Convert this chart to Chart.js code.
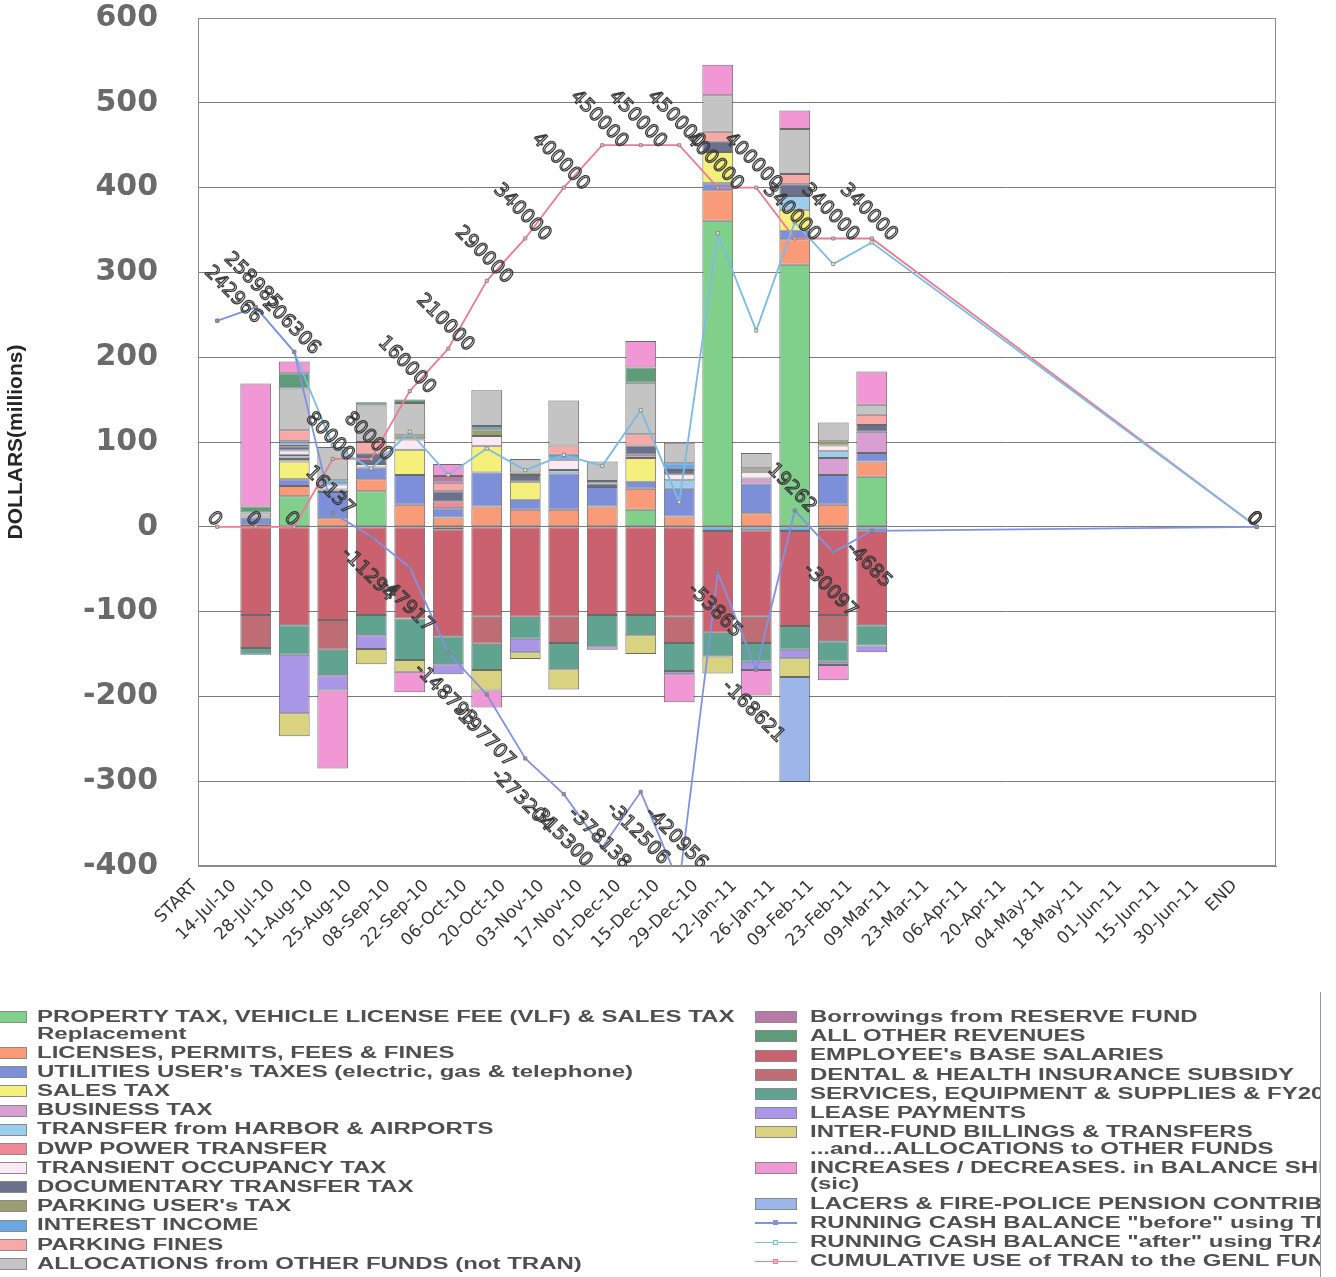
<!DOCTYPE html>
<html>
<head>
<meta charset="utf-8">
<title>General Fund cash flow and TRAN use, FY2010-11</title>
<script src="https://cdn.jsdelivr.net/npm/chart.js@4.4.1/dist/chart.umd.min.js"></script>
<style>
  html, body { margin: 0; padding: 0; background: #ffffff; }
  body { width: 1336px; height: 1277px; position: relative; overflow: hidden;
         font-family: "Liberation Sans", Arial, sans-serif; }
  #plot { position: absolute; left: 0; top: 0; width: 1336px; height: 990px; }
  #legend { position: absolute; left: 0; top: 0; width: 1320px; height: 1277px; overflow: hidden; }
  #edge { position: absolute; left: 1320px; top: 992px; width: 1px; height: 285px; background: #9a9a9a; }
  .col { position: absolute; top: 1009px; }
  .item { position: relative; margin-bottom: 2.7px; }
  .sw { position: absolute; top: 2.25px; width: 42px; height: 12px; box-sizing: border-box;
        border: 1px solid #8a8a8a; }
  .swline { position: absolute; top: 2.25px; width: 42px; height: 12px; }
  .swline i { position: absolute; left: 0; right: 0; top: 5.5px; height: 1.5px; }
  .swline b { position: absolute; left: 18px; top: 3.5px; width: 5px; height: 5px; box-sizing: border-box; }
  .txt { position: relative; font-weight: bold; font-size: 16px; line-height: 16.5px; color: #4f4f4f;
         white-space: nowrap; transform: scaleX(1.5); transform-origin: 0 0; }
</style>
</head>
<body>
<div id="plot"><canvas id="chart" width="1336" height="990"></canvas></div>
<div id="legend"></div>
<div id="edge"></div>
<script>
// Pay-period dates on the category axis
const categories = ['START', '14-Jul-10', '28-Jul-10', '11-Aug-10', '25-Aug-10', '08-Sep-10', '22-Sep-10',
  '06-Oct-10', '20-Oct-10', '03-Nov-10', '17-Nov-10', '01-Dec-10', '15-Dec-10', '29-Dec-10', '12-Jan-11',
  '26-Jan-11', '09-Feb-11', '23-Feb-11', '09-Mar-11', '23-Mar-11', '06-Apr-11', '20-Apr-11', '04-May-11',
  '18-May-11', '01-Jun-11', '15-Jun-11', '30-Jun-11', 'END'];

// Receipts and disbursements per period, $ millions (START .. 23-Feb-11)
//                       START 14Jul 28Jul 11Aug 25Aug 08Sep 22Sep 06Oct 20Oct 03Nov 17Nov 01Dec 15Dec 29Dec 12Jan 26Jan 09Feb 23Feb
const propertyTax      = [null,   0,   36,    0,   42,    0,    0,    0,    0,    0,    0,   20,    0,  361,    0,  309,    0,   59];
const licensesFees     = [null,   3,   12,   10,   14,   26,   11,   24,   20,   20,   24,   25,   12,   36,   16,   30,   26,   18];
const utilityTaxes     = [null,   8,    8,   31,   14,   35,   11,   40,   12,   43,   23,    8,   33,    8,   35,   10,   35,   10];
const salesTax         = [null,   0,   21,    0,    0,   30,    0,   31,   21,    0,    0,   28,    0,   37,    0,   25,    0,    0];
const businessTax      = [null,   0,    3,    0,    0,    0,    0,    0,    0,    0,    0,    4,    0,    0,    6,    0,   20,   25];
const harborAirports   = [null,   0,    3,    3,    0,    0,    0,    0,    0,    4,    0,    0,   10,    0,    0,   16,    8,    0];
const dwpTransfer      = [null,   0,    2,    0,    0,    0,    8,    0,    0,    0,    0,    0,    0,    0,    0,    0,    0,    0];
const transientTax     = [null,   0,    5,    6,    4,   12,    0,   12,    0,   12,    0,    0,    7,    0,    8,    0,    7,    0];
const documentaryTax   = [null,   0,    5,    0,   12,    0,   12,    0,    8,    0,    4,   11,    5,   12,    0,   14,    0,    8];
const parkingUserTax   = [null,   0,    2,    0,    0,    5,    0,    8,    3,    0,    0,    0,    0,    0,    4,    0,    5,    0];
const interestIncome   = [null,   0,    4,    5,    0,    0,   -3,    4,    0,    6,    3,    0,    8,   -5,   -4,   -5,   -3,   -4];
const parkingFines     = [null,   0,   13,    0,   14,    0,   10,    0,    0,   11,    0,   13,    0,   12,    0,   12,    0,   12];
const allocationsIn    = [null,   6,   49,   39,   43,   38,    0,   42,   16,   53,   23,   61,   24,   43,   18,   53,   22,   12];
const reserveBorrowing = [null,   0,    0,    0,    0,    0,    8,    0,    0,    0,    0,    0,    0,    0,    0,    0,    0,    0];
const otherRevenues    = [null,   7,   18,    0,    4,    4,    0,    0,    0,    0,    0,   18,    0,    0,    0,    0,    0,    0];
const baseSalaries     = [null, -104, -116, -110, -104, -108, -126, -106, -106, -106, -104, -104, -106, -120, -102, -112, -101, -112];
const healthSubsidy    = [null,  -39,    0,  -35,    0,    0,    0,  -32,    0,  -31,    0,    0,  -31,    0,  -31,    0,  -31,    0];
const servicesSupplies = [null,   -8,  -35,  -30,  -24,  -49,  -33,  -31,  -26,  -31,  -37,  -24,  -33,  -28,  -22,  -28,  -24,  -24];
const leasePayments    = [null,    0,  -69,  -18,  -16,    0,  -12,    0,  -16,    0,   -4,    0,   -4,    0,  -10,  -10,   -4,   -8];
const interFundOut     = [null,    0,  -27,    0,  -18,  -14,    0,  -24,   -8,  -24,    0,  -22,    0,  -20,    0,  -22,    0,    0];
const balanceSheetChg  = [null,  145,   14,  -92,    0,  -24,   14,  -20,    0,    0,    0,   31,  -33,   36,  -30,   22,  -18,   39];
const pensionContrib   = [null,    0,    0,    0,    0,    0,    0,    0,    0,    0,    0,    0,    0,    0,    0, -124,    0,    0];

// Running balances and cumulative TRAN draw, $ thousands (as labelled)
const cashBefore = [242966, 258985, 206306, 16137, -11294, -47917, -148793, -197707, -273204, -315300,
  -378138, -312506, -420956, -53865, -168621, 19262, -30097, -4685,
  null, null, null, null, null, null, null, null, null, 0];
const cashAfter = [242966, 258985, 206306, 96137, 68706, 112083, 61207, 92293, 66796, 84700,
  71862, 137494, 29044, 346135, 231379, 359262, 309903, 335315,
  null, null, null, null, null, null, null, null, null, 0];
const tranCumulative = [0, 0, 0, 80000, 80000, 160000, 210000, 290000, 340000, 400000,
  450000, 450000, 450000, 400000, 400000, 340000, 340000, 340000,
  null, null, null, null, null, null, null, null, null, 0];

const yTicks = { min: -400, max: 600, step: 100 };

const barSeries = [
  { name: 'PROPERTY TAX, VEHICLE LICENSE FEE (VLF) & SALES TAX\nReplacement', values: propertyTax, color: '#80d08b' },
  { name: 'LICENSES, PERMITS, FEES & FINES', values: licensesFees, color: '#f99a78' },
  { name: 'UTILITIES  USER\'s TAXES (electric, gas & telephone)', values: utilityTaxes, color: '#7c8fd8' },
  { name: 'SALES TAX', values: salesTax, color: '#f5f07c' },
  { name: 'BUSINESS TAX', values: businessTax, color: '#d8a0d2' },
  { name: 'TRANSFER from HARBOR & AIRPORTS', values: harborAirports, color: '#9acdee' },
  { name: 'DWP POWER TRANSFER', values: dwpTransfer, color: '#ee8a96' },
  { name: 'TRANSIENT OCCUPANCY TAX', values: transientTax, color: '#fbeaf3' },
  { name: 'DOCUMENTARY TRANSFER TAX', values: documentaryTax, color: '#6b708c' },
  { name: 'PARKING USER\'s TAX', values: parkingUserTax, color: '#9a9f72' },
  { name: 'INTEREST INCOME', values: interestIncome, color: '#6ba7e2' },
  { name: 'PARKING FINES', values: parkingFines, color: '#f6a9a7' },
  { name: 'ALLOCATIONS from OTHER FUNDS (not TRAN)', values: allocationsIn, color: '#c4c4c4' },
  { name: 'Borrowings from RESERVE FUND', values: reserveBorrowing, color: '#b77aa6' },
  { name: 'ALL OTHER REVENUES', values: otherRevenues, color: '#5e9b79' },
  { name: 'EMPLOYEE\'s BASE SALARIES', values: baseSalaries, color: '#c9616f' },
  { name: 'DENTAL & HEALTH INSURANCE SUBSIDY', values: healthSubsidy, color: '#bd6d73' },
  { name: 'SERVICES, EQUIPMENT & SUPPLIES & FY2011', values: servicesSupplies, color: '#5fa390' },
  { name: 'LEASE PAYMENTS', values: leasePayments, color: '#aa96e6' },
  { name: 'INTER-FUND BILLINGS & TRANSFERS\n...and...ALLOCATIONS to OTHER FUNDS', values: interFundOut, color: '#d9d380' },
  { name: 'INCREASES / DECREASES. in BALANCE SHEET ACCOUNTS\n(sic)', values: balanceSheetChg, color: '#f197d6' },
  { name: 'LACERS & FIRE-POLICE PENSION CONTRIBUTIONS', values: pensionContrib, color: '#9db6ea' }
];

const lineSeries = [
  { name: 'RUNNING CASH BALANCE "before" using TRAN', values: cashBefore, color: '#8193e0',
    marker: '#8d93b8', labelled: true },
  { name: 'RUNNING CASH BALANCE "after" using TRAN', values: cashAfter, color: '#7bbbe4',
    marker: '#eef3c4', labelled: false },
  { name: 'CUMULATIVE USE of TRAN to the GENL FUND', values: tranCumulative, color: '#ea7d94',
    marker: '#f0b3c0', labelled: true }
];

const datasets = [];
barSeries.forEach(s => {
  datasets.push({
    type: 'bar',
    label: s.name.replace('\n', ' '),
    data: s.values.map(v => (v === 0 ? null : v)),
    backgroundColor: s.color,
    borderColor: 'rgba(70,70,70,0.8)',
    borderWidth: 1,
    borderSkipped: false,
    stack: 'flows',
    barPercentage: 0.8,
    categoryPercentage: 1,
    order: 1
  });
});
lineSeries.forEach((s, k) => {
  datasets.push({
    type: 'line',
    label: s.name,
    data: s.values.map(v => (v === null ? null : v / 1000)),
    borderColor: s.color,
    backgroundColor: s.color,
    borderWidth: 1.8,
    pointStyle: 'rect',
    pointRadius: 2.2,
    pointBackgroundColor: s.marker,
    pointBorderColor: '#7a7a7a',
    pointBorderWidth: 0.8,
    spanGaps: true,
    tension: 0,
    stack: 'line' + k,
    order: 0,
    valueLabels: s.labelled ? s.values : null
  });
});

// Rotated hollow value labels next to the line points, kept inside the plot area
const valueLabels = {
  id: 'valueLabels',
  afterDatasetsDraw(chart) {
    const { ctx, chartArea: a } = chart;
    ctx.save();
    ctx.beginPath();
    ctx.rect(a.left, a.top, a.right - a.left, a.bottom - a.top);
    ctx.clip();
    const size = 19;
    ctx.font = size + 'px "DejaVu Sans", "Liberation Sans", sans-serif';
    ctx.textAlign = 'center';
    ctx.textBaseline = 'middle';
    ctx.strokeStyle = '#383838';
    ctx.lineWidth = 1.2;
    chart.data.datasets.forEach((ds, di) => {
      if (!ds.valueLabels) return;
      const meta = chart.getDatasetMeta(di);
      ds.valueLabels.forEach((v, i) => {
        if (v === null || v === undefined) return;
        const pt = meta.data[i];
        if (!pt) return;
        const text = String(v);
        const w = ctx.measureText(text).width;
        const half = (w + size * 0.8) * 0.3536;
        let cy;
        if (v < 0) {
          cy = pt.y + 0.3 * w + 18;
          if (cy > a.bottom - half + 6) cy = a.bottom - half + 6;
        } else {
          cy = pt.y - (0.3 * w + 4);
        }
        let cx = pt.x - 3;
        if (cx < a.left + half) cx = a.left + half + 4;
        ctx.save();
        ctx.translate(cx, cy);
        ctx.rotate(Math.PI / 4);
        ctx.strokeText(text, 0, 0);
        ctx.restore();
      });
    });
    ctx.restore();
  }
};

// Box round the plotting area
const plotFrame = {
  id: 'plotFrame',
  beforeDatasetsDraw(chart) {
    const { ctx, chartArea: a } = chart;
    ctx.save();
    ctx.strokeStyle = '#8c8c8c';
    ctx.lineWidth = 1;
    ctx.strokeRect(Math.round(a.left) + 0.5, Math.round(a.top) + 0.5,
      Math.round(a.right - a.left) - 1, Math.round(a.bottom - a.top) - 1);
    ctx.restore();
  }
};

Chart.defaults.font.family = '"Liberation Sans", Arial, sans-serif';

const chart = new Chart(document.getElementById('chart'), {
  data: { labels: categories, datasets: datasets },
  options: {
    responsive: false,
    animation: false,
    devicePixelRatio: 1,
    layout: { padding: { top: 18, right: 60, bottom: 0, left: 0 } },
    plugins: { legend: { display: false }, tooltip: { enabled: false } },
    scales: {
      x: {
        stacked: true,
        grid: { display: false },
        border: { display: true, color: '#8c8c8c' },
        ticks: {
          autoSkip: false, minRotation: 45, maxRotation: 45, labelOffset: -22, padding: 2,
          color: '#353535', font: { family: '"DejaVu Sans", sans-serif', size: 17 }
        },
        afterFit(scale) { scale.height = 124; }
      },
      y: {
        stacked: true,
        min: yTicks.min, max: yTicks.max,
        grid: { color: '#7c7c7c', drawTicks: true, tickLength: 40, tickColor: 'rgba(0,0,0,0)' },
        border: { display: true, color: '#8c8c8c' },
        ticks: {
          stepSize: yTicks.step, padding: 0, color: '#6a6a6a',
          font: { family: '"DejaVu Sans", sans-serif', size: 30, weight: 'bold' }
        },
        title: {
          display: true, text: 'DOLLARS(millions)', color: '#262626',
          padding: { top: 4, bottom: 0 },
          font: { family: '"Liberation Sans", Arial, sans-serif', size: 21, weight: 'bold' }
        },
        afterFit(scale) { scale.width = 198; }
      }
    }
  },
  plugins: [plotFrame, valueLabels]
});

// Two-column legend under the plot, built from the chart's datasets
(function buildLegend() {
  const host = document.getElementById('legend');
  const names = barSeries.map(s => s.name).concat(lineSeries.map(s => s.name));
  const cols = [
    { left: -15, textLeft: 52, from: 0, to: 13 },
    { left: 755, textLeft: 55, from: 13, to: names.length }
  ];
  cols.forEach(c => {
    const col = document.createElement('div');
    col.className = 'col';
    col.style.left = c.left + 'px';
    for (let i = c.from; i < c.to; i++) {
      const ds = chart.data.datasets[i];
      const item = document.createElement('div');
      item.className = 'item';
      let sw;
      if (ds.type === 'line') {
        sw = document.createElement('div');
        sw.className = 'swline';
        const ln = document.createElement('i');
        ln.style.background = ds.borderColor;
        const mk = document.createElement('b');
        mk.style.background = ds.pointBackgroundColor;
        mk.style.border = '1px solid ' + ds.borderColor;
        sw.appendChild(ln); sw.appendChild(mk);
      } else {
        sw = document.createElement('div');
        sw.className = 'sw';
        sw.style.background = ds.backgroundColor;
      }
      item.appendChild(sw);
      const txt = document.createElement('div');
      txt.className = 'txt';
      txt.style.left = c.textLeft + 'px';
      names[i].split('\n').forEach(l => {
        const d = document.createElement('div');
        d.textContent = l;
        txt.appendChild(d);
      });
      item.appendChild(txt);
      col.appendChild(item);
    }
    host.appendChild(col);
  });
})();
</script>
</body>
</html>
